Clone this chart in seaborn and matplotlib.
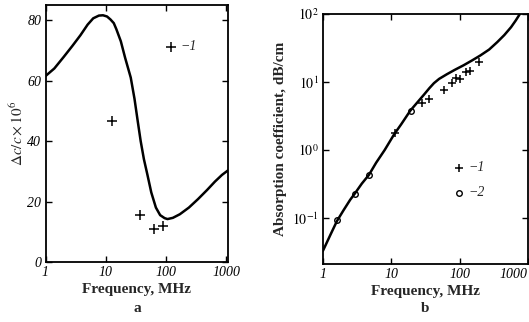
import matplotlib
matplotlib.use("Agg")
import matplotlib.pyplot as plt
import seaborn as sns
from matplotlib.ticker import FixedLocator, FixedFormatter, NullLocator

# panel a: velocity dispersion
freq_a_curve = [1, 1.4, 2, 2.8, 3.8, 5, 6.2, 7.7, 9, 10.5, 12, 13.6, 15, 17.8,
                21, 26, 30, 34, 38, 43, 49, 57, 68, 80, 95, 106, 130, 170,
                240, 340, 480, 650, 850, 1070]
dc_curve = [61.5, 64, 67.8, 71.5, 75, 78.5, 80.6, 81.5, 81.6, 81.2, 80.2, 79,
            77, 73, 67.5, 61, 54, 46.5, 40, 34, 29, 23, 18, 15.5, 14.5, 14.2,
            14.6, 15.8, 18, 20.8, 23.8, 26.6, 28.8, 30.3]
freq_a_pts = [12.9, 37, 64, 90]
dc_pts = [46.5, 15.5, 11, 12]

# panel b: absorption coefficient
freq_b_curve = [1, 1.3, 1.6, 2, 2.5, 2.9, 3.7, 4.7, 6, 8, 11, 14, 19, 24, 30,
                36, 42, 50, 65, 85, 114, 150, 200, 270, 355, 450, 565, 660, 760]
alpha_curve = [0.033, 0.058, 0.09, 0.13, 0.185, 0.226, 0.32, 0.43, 0.65, 1.0,
               1.7, 2.4, 3.8, 5.0, 6.5, 8.1, 9.6, 11.1, 13, 15.1, 17.6, 20.6,
               24.5, 30, 38.6, 49, 64, 80, 100]
freq_b_pts1 = [11.3, 28, 36, 58, 77, 88, 101, 123, 143, 194]
alpha_pts1 = [1.75, 4.9, 5.7, 7.6, 9.8, 11.6, 11, 13.8, 14.6, 20]
freq_b_pts2 = [1.62, 2.9, 4.7, 19.5]
alpha_pts2 = [0.093, 0.226, 0.43, 3.7]

freq_ticks = [1, 10, 100, 1000]
freq_tick_labels = ["1", "10", "100", "1000"]

sns.set_style("ticks")
plt.rcParams["font.family"] = ["Liberation Serif", "DejaVu Serif"]
plt.rcParams["mathtext.fontset"] = "stix"

fig = plt.figure(figsize=(5.29, 3.22), dpi=100)
ax_a = fig.add_axes([45.5 / 529, 1 - 262 / 322, 182.5 / 529, 257 / 322])
ax_b = fig.add_axes([323 / 529, 1 - 264 / 322, 205 / 529, 250 / 322])

label_font = {"family": "Liberation Serif", "weight": "bold", "size": 11}
leg_prop = {"family": "Liberation Serif", "style": "italic", "size": 10}

# ---- panel a
sns.lineplot(x=freq_a_curve, y=dc_curve, ax=ax_a, color="black", linewidth=1.8)
sns.scatterplot(x=freq_a_pts, y=dc_pts, ax=ax_a, marker="+", s=45,
                color="black", linewidth=1.1, label="\u22121")
ax_a.set_xscale("log")
ax_a.set_xlim(1, 1070)
ax_a.set_ylim(0, 85)
ax_a.set_yticks([0, 20, 40, 60, 80])
ax_a.set_xlabel("Frequency, MHz", fontdict=label_font, labelpad=3)
ax_a.set_ylabel(r"$\Delta c/c\times10^6$", fontsize=11, labelpad=1)
ax_a.legend(frameon=False, handlelength=0.8, handletextpad=0.3, borderpad=0,
            loc="center left", bbox_to_anchor=(0.62, 0.837), prop=leg_prop)

# ---- panel b
sns.lineplot(x=freq_b_curve, y=alpha_curve, ax=ax_b, color="black", linewidth=1.8)
sns.scatterplot(x=freq_b_pts1, y=alpha_pts1, ax=ax_b, marker="+", s=40,
                color="black", linewidth=1.1, label="\u22121")
sns.scatterplot(x=freq_b_pts2, y=alpha_pts2, ax=ax_b, marker="o", s=16,
                facecolor="white", edgecolor="black", linewidth=1.0,
                label="\u22122")
ax_b.set_xscale("log")
ax_b.set_yscale("log")
ax_b.set_xlim(1, 1000)
ax_b.set_ylim(0.021, 100)
ax_b.yaxis.set_major_locator(FixedLocator([0.1, 1, 10, 100]))
ax_b.yaxis.set_major_formatter(FixedFormatter(
    [r"$\mathit{10^{-1}}$", r"$\mathit{10^{0}}$", r"$\mathit{10^{1}}$", r"$\mathit{10^{2}}$"]))
ax_b.yaxis.set_minor_locator(NullLocator())
ax_b.set_xlabel("Frequency, MHz", fontdict=label_font, labelpad=3)
ax_b.set_ylabel("Absorption coefficient, dB/cm", fontdict=label_font, labelpad=4)
ax_b.legend(frameon=False, handlelength=0.8, handletextpad=0.3, borderpad=0,
            labelspacing=0.85, loc="center left", bbox_to_anchor=(0.6, 0.335),
            prop=leg_prop)

for ax in (ax_a, ax_b):
    ax.xaxis.set_major_locator(FixedLocator(freq_ticks))
    ax.xaxis.set_major_formatter(FixedFormatter(freq_tick_labels))
    ax.xaxis.set_minor_locator(NullLocator())
    ax.tick_params(which="both", direction="in", top=True, right=True,
                   length=4, width=1, pad=3, colors="black")
    for lab in ax.get_xticklabels() + ax.get_yticklabels():
        lab.set_fontstyle("italic")
        lab.set_fontsize(10)
    for sp in ax.spines.values():
        sp.set_visible(True)
        sp.set_linewidth(1.3)
        sp.set_color("black")

# the last frequency label of panel b sits against the figure edge
ax_b.get_xticklabels()[-1].set_horizontalalignment("right")

# panel captions
fig.text(137 / 529, 1 - 309 / 322, "a", ha="center", va="center", fontdict=label_font)
fig.text(425 / 529, 1 - 309 / 322, "b", ha="center", va="center", fontdict=label_font)

fig.savefig("out.png", dpi=100)
plt.close(fig)
